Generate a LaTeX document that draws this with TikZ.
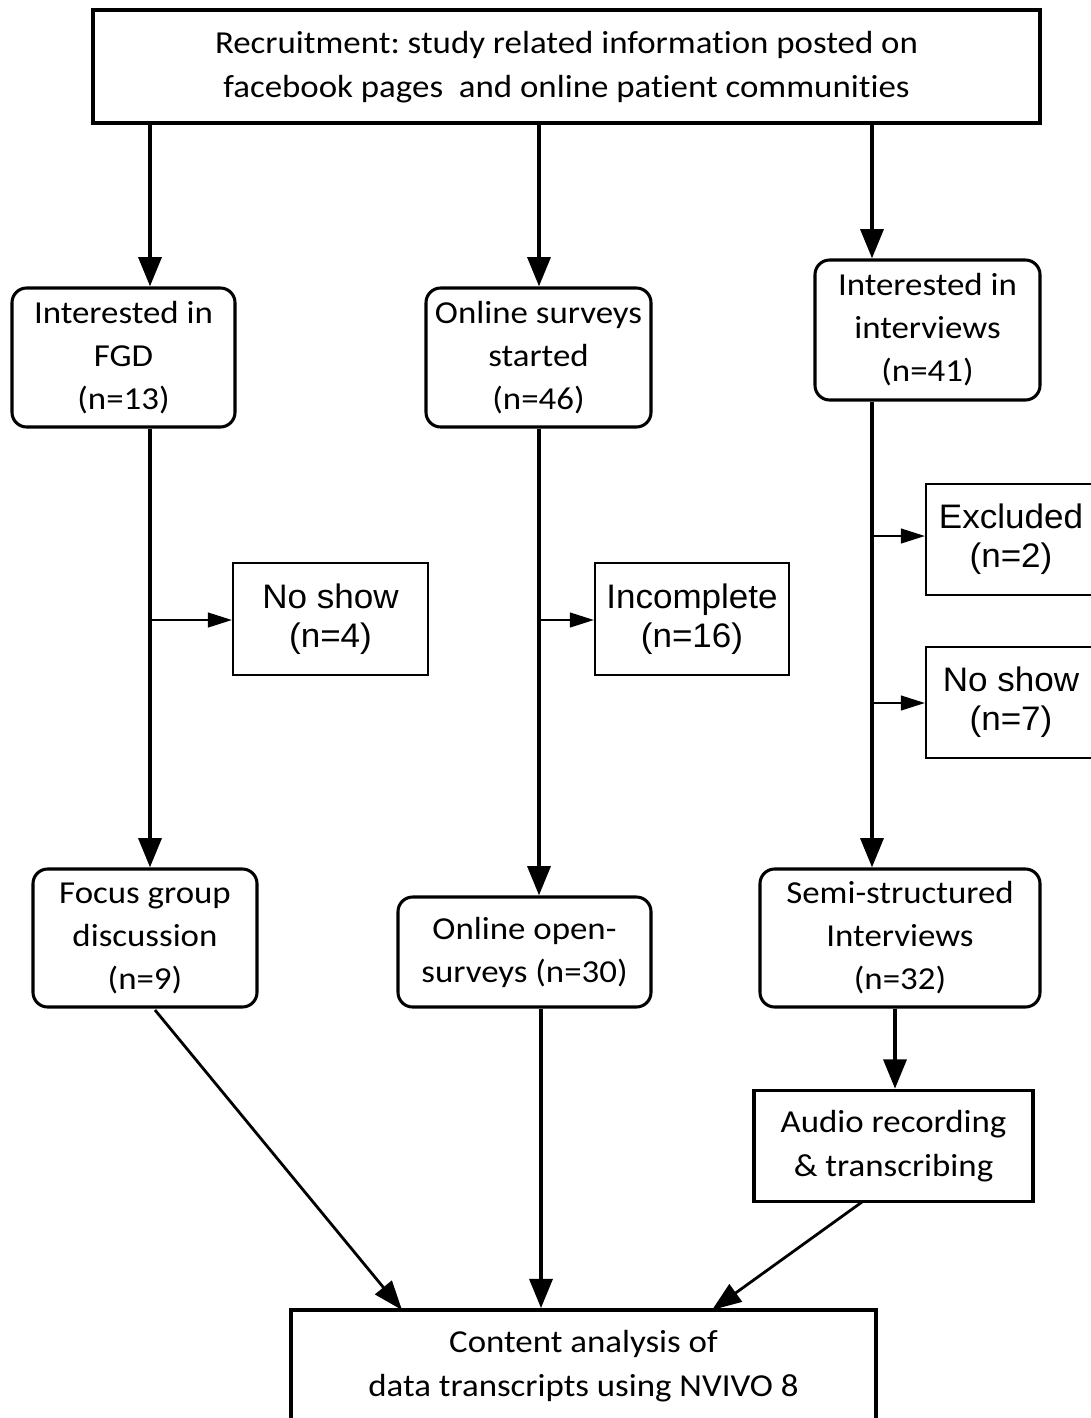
\documentclass[tikz,border=0pt]{standalone}
\usepackage{fontspec}
\setmainfont{Carlito}[FakeStretch=1.09, Ligatures=NoCommon]
\newfontfamily\arialfont{Liberation Sans}[FakeStretch=1.03]
\usetikzlibrary{arrows.meta}
\frenchspacing
\tikzset{
  calib/.style={font=\fontsize{24pt}{32.25pt}\selectfont, align=center, inner sep=0pt},
  arialtxt/.style={font=\arialfont\fontsize{25.5pt}{29.5pt}\selectfont, align=center, inner sep=0pt},
  sqbox/.style={calib, draw, line width=2.6pt},
  rbox/.style={calib, draw, line width=2.3pt, rounded corners=11pt},
  thinbox/.style={arialtxt, draw, line width=1.6pt},
  mainarrow/.style={line width=3.3pt, -{Triangle[length=22pt,width=17pt]}},
  brancharrow/.style={line width=1.6pt, -{Triangle[length=18pt,width=11pt]}},
  diagarrow/.style={line width=2.1pt, -{Triangle[length=22pt,width=16pt]}},
}
\begin{document}
\begin{tikzpicture}[x=0.75pt,y=-0.75pt]
\useasboundingbox (0,0) rectangle (1091,1418);
\clip (0,0) rectangle (1091,1418);

% boxes
\node[sqbox, minimum width=710.25pt, minimum height=84.75pt] (top) at (566.5,66.5)
  {\raisebox{-2.2pt}{\begin{tabular}{@{}c@{}}Recruitment: study related information posted on\\[0.6pt]facebook pages\ \ and online patient communities\end{tabular}}};
\node[rbox, minimum width=167.25pt, minimum height=104.25pt] (fgd) at (123.5,357.5)
  {Interested in\\FGD\\(n=13)};
\node[rbox, minimum width=168.75pt, minimum height=104.25pt] (surv) at (538.5,357.5)
  {Online surveys\\started\\(n=46)};
\node[rbox, minimum width=168.75pt, minimum height=105pt] (intv) at (927.5,330)
  {Interested in\\interviews\\(n=41)};
\node[thinbox, minimum width=146.25pt, minimum height=84pt] (ns4) at (330.5,619)
  {No show\\(n=4)};
\node[thinbox, minimum width=145.5pt, minimum height=84pt] (inc) at (692,619)
  {Incomplete\\(n=16)};
\node[thinbox, minimum width=127.5pt, minimum height=83.25pt] (exc) at (1011,539.5)
  {Excluded\\(n=2)};
\node[thinbox, minimum width=127.5pt, minimum height=83.25pt] (ns7) at (1011,702.5)
  {No show\\(n=7)};
\node[rbox, minimum width=168pt, minimum height=103.5pt] (fg) at (145,938)
  {Focus group\\discussion\\(n=9)};
\node[rbox, minimum width=189.75pt, minimum height=82.5pt] (open) at (524.5,952)
  {Online open-\\surveys (n=30)};
\node[rbox, minimum width=210pt, minimum height=103.5pt] (semi) at (900,938)
  {Semi-structured\\Interviews\\(n=32)};
\node[sqbox, minimum width=209.25pt, minimum height=83.25pt, font=\fontsize{24pt}{33pt}\selectfont] (audio) at (893.5,1146)
  {Audio recording\\\&\ transcribing};
\node[sqbox, minimum width=438.75pt, minimum height=84pt, font=\fontsize{24pt}{33pt}\selectfont] (cont) at (583.5,1366)
  {Content analysis of\\data transcripts using NVIVO 8};

% column positions
\coordinate (c1) at (150,0);
\coordinate (c2) at (539,0);
\coordinate (c3) at (872,0);
\coordinate (c4) at (541,0);
\coordinate (c5) at (895,0);
\coordinate (b1) at (0,620);
\coordinate (b3a) at (0,536);
\coordinate (b3b) at (0,703);
\coordinate (fgout) at (155,1010);
\coordinate (fgin) at (402,1310);
\coordinate (auout) at (862,1202);
\coordinate (auin) at (712,1310);

% connectors
\draw[mainarrow] (top.south -| c1) -- (fgd.north -| c1);
\draw[mainarrow] (top.south -| c2) -- (surv.north -| c2);
\draw[mainarrow] (top.south -| c3) -- (intv.north -| c3);

\draw[mainarrow] (fgd.south -| c1) -- (fg.north -| c1);
\draw[mainarrow] (surv.south -| c2) -- (open.north -| c2);
\draw[mainarrow] (intv.south -| c3) -- (semi.north -| c3);

\draw[brancharrow] (b1 -| c1) -- (ns4.west |- b1);
\draw[brancharrow] (b1 -| c2) -- (inc.west |- b1);
\draw[brancharrow] (b3a -| c3) -- (exc.west |- b3a);
\draw[brancharrow] (b3b -| c3) -- (ns7.west |- b3b);

\draw[mainarrow] (semi.south -| c5) -- (audio.north -| c5);
\draw[mainarrow] (open.south -| c4) -- (cont.north -| c4);
\draw[diagarrow] (fgout) -- (fgin);
\draw[diagarrow] (auout) -- (auin);
\end{tikzpicture}
\end{document}
